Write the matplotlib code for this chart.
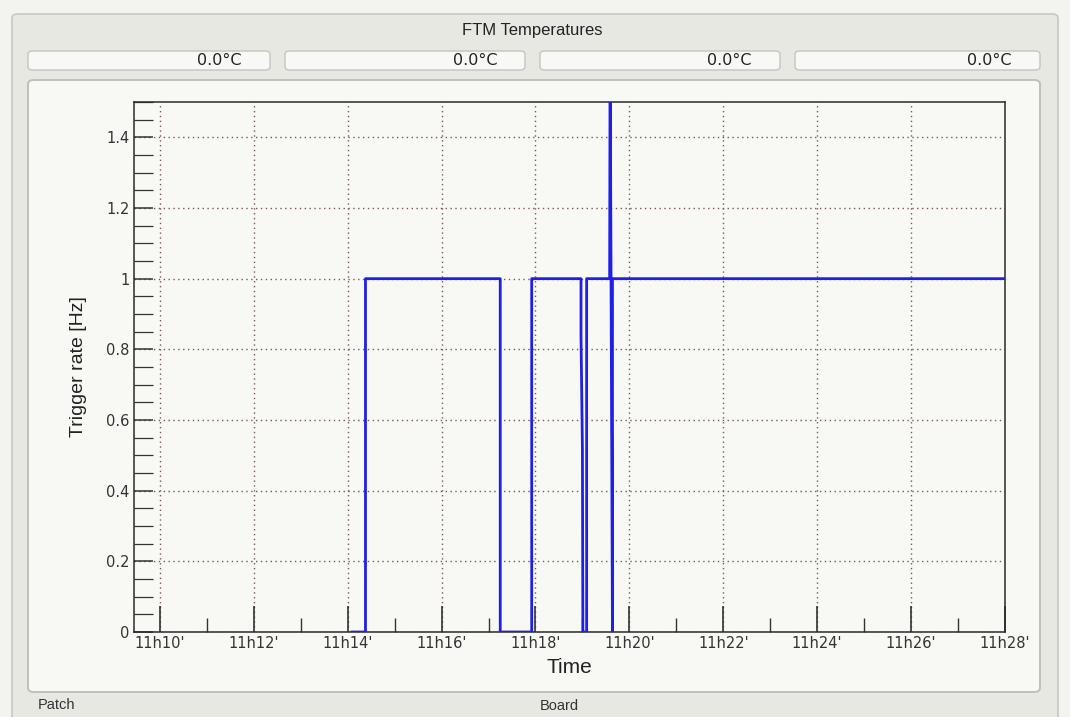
import matplotlib
matplotlib.use("Agg")
import matplotlib.pyplot as plt
from matplotlib.patches import FancyBboxPatch
from matplotlib.ticker import MultipleLocator, FuncFormatter

# ---- data (minutes after 11h00, trigger rate in Hz) ----
time_min = [14.09, 14.38, 14.38, 17.25, 17.25, 17.92, 17.92, 18.97, 18.97,
            19.00, 19.01, 19.09, 19.09, 19.58, 19.59, 19.64, 19.64, 28.00]
rate_hz = [0.0, 0.0, 1.0, 1.0, 0.0, 0.0, 1.0, 1.0, 0.84,
           0.52, 0.0, 0.0, 1.0, 1.0, 1.65, 0.0, 1.0, 1.0]
temps = ["0.0\u00b0C", "0.0\u00b0C", "0.0\u00b0C", "0.0\u00b0C"]
title = "FTM Temperatures"
x_range = (9.45, 28.0)
y_range = (0.0, 1.5)

W, H = 1070, 717
fig = plt.figure(figsize=(W / 100, H / 100), dpi=100)
fig.patch.set_facecolor("#f3f3f0")

def px_box(x0, y0, x1, y1, fc, ec, lw=1.0, r=6, z=0):
    p = FancyBboxPatch((x0 / W, 1 - y1 / H), (x1 - x0) / W, (y1 - y0) / H,
                       boxstyle="round,pad=0,rounding_size=%f" % (r / W),
                       transform=fig.transFigure, facecolor=fc, edgecolor=ec,
                       linewidth=lw, zorder=z)
    fig.add_artist(p)

sans = ["Liberation Sans", "DejaVu Sans"]
wide = ["DejaVu Sans"]

# outer group box
px_box(12, 14, 1058, 730, "#e8e8e3", "#c8c8c2", lw=1.2, r=6)
fig.text(532 / W, 1 - 30 / H, title, ha="center", va="center",
         fontsize=12, family=sans, color="#222222")

# temperature boxes
boxes = [(28, 270), (285, 525), (540, 780), (795, 1040)]
for (x0, x1), t in zip(boxes, temps):
    px_box(x0, 51, x1, 70, "#f8f8f6", "#c5c5bf", lw=1.0, r=5)
    fig.text((x1 - 28) / W, 1 - 60.5 / H, t, ha="right", va="center",
             fontsize=11.5, family=wide, color="#222222")

# plot pad
px_box(28, 80, 1040, 692, "#f8f8f5", "#c0c0ba", lw=1.4, r=6)

fig.text(38 / W, 1 - 705 / H, "Patch", ha="left", va="center",
         fontsize=10.5, family=sans, color="#333333")
fig.text(540 / W, 1 - 706 / H, "Board", ha="left", va="center",
         fontsize=10.5, family=sans, color="#333333")

# axes
ax = fig.add_axes([134 / W, 1 - 632 / H, (1005 - 134) / W, (632 - 102) / H])
ax.set_facecolor("none")
ax.set_xlim(*x_range)
ax.set_ylim(*y_range)

ax.plot(time_min, rate_hz, color="#1f1fe8", lw=2.0, zorder=3, clip_on=True)

ax.xaxis.set_major_locator(MultipleLocator(2))
ax.xaxis.set_minor_locator(MultipleLocator(1))
ax.yaxis.set_major_locator(MultipleLocator(0.2))
ax.yaxis.set_minor_locator(MultipleLocator(0.05))

ax.xaxis.set_major_formatter(FuncFormatter(lambda v, p: "11h%02d'" % int(round(v))))

def yfmt(v, p):
    if abs(v - round(v)) < 1e-9:
        return "%d" % round(v)
    return ("%.1f" % v)
ax.yaxis.set_major_formatter(FuncFormatter(yfmt))

ax.grid(True, which="major", linestyle=(0, (1, 2.5)), color="#7a5a50", lw=1.0)
ax.tick_params(axis="both", which="both", direction="in", colors="#333333",
               labelsize=10.5, top=False, right=False)
ax.tick_params(axis="x", which="major", length=19, width=1.2, pad=3)
ax.tick_params(axis="x", which="minor", length=10, width=1.0)
ax.tick_params(axis="y", which="major", length=14, width=1.1, pad=3)
ax.tick_params(axis="y", which="minor", length=14, width=0.9)
for lab in ax.get_xticklabels() + ax.get_yticklabels():
    lab.set_family(wide)
    lab.set_color("#333333")

for s in ax.spines.values():
    s.set_color("#2a2a2a")
    s.set_linewidth(1.1)

ax.set_xlabel("Time", fontsize=15, family=sans, color="#222222", labelpad=5)
ax.set_ylabel("Trigger rate [Hz]", fontsize=14, family=sans, color="#222222",
              labelpad=14)

fig.savefig("out.png", dpi=100, facecolor=fig.get_facecolor())
